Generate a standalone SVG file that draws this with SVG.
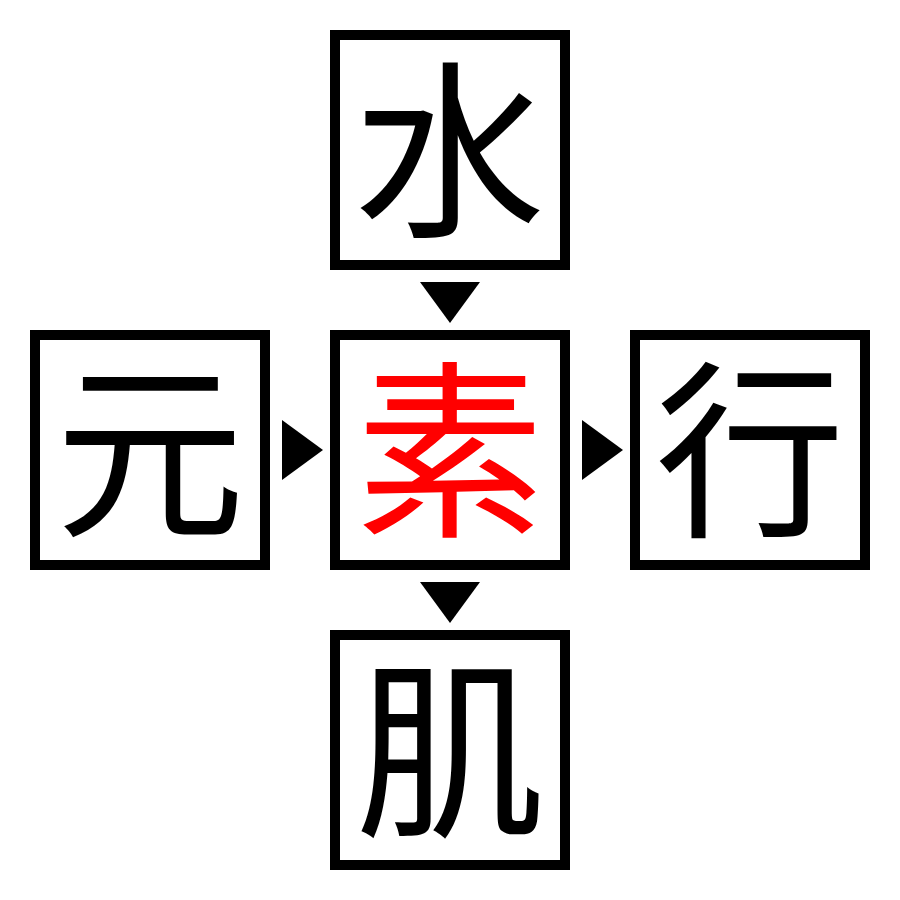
<svg xmlns="http://www.w3.org/2000/svg" width="900" height="900" viewBox="0 0 900 900">
<style>
.box{fill:#fff;stroke:#000;stroke-width:10}
.ch{font-family:"Noto Sans CJK JP","Noto Sans CJK SC",sans-serif;font-size:190px;text-anchor:middle;fill:#000}
.red{fill:#ff0000}
.arr{fill:#000}
</style>
<rect width="900" height="900" fill="#fff"/>
<g id="connectors">
<polygon class="arr" points="420,282 480,282 450,323"/>
<polygon class="arr" points="420,582 480,582 450,623"/>
<polygon class="arr" points="282,420 282,480 323,450"/>
<polygon class="arr" points="582,420 582,480 623,450"/>
</g>
<g id="node-top"><rect class="box" x="335" y="35" width="230" height="230"/><text class="ch" x="450" y="222">水</text></g>
<g id="node-left"><rect class="box" x="35" y="335" width="230" height="230"/><text class="ch" x="150" y="522">元</text></g>
<g id="node-center"><rect class="box" x="335" y="335" width="230" height="230"/><text class="ch red" x="450" y="522">素</text></g>
<g id="node-right"><rect class="box" x="635" y="335" width="230" height="230"/><text class="ch" x="750" y="522">行</text></g>
<g id="node-bottom"><rect class="box" x="335" y="635" width="230" height="230"/><text class="ch" x="450" y="822">肌</text></g>
</svg>
